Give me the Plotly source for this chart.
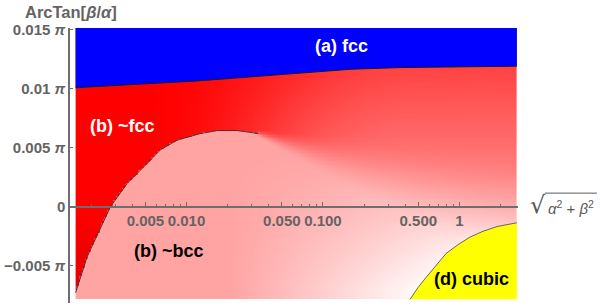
import numpy as np
import plotly.graph_objects as go

# ---------------- data ----------------
# x = sqrt(alpha^2+beta^2) (log scale), y = ArcTan[beta/alpha] in units of pi
fcc_x = [0.00154, 0.005, 0.012, 0.03, 0.07, 0.16, 0.37, 0.85, 2.64]
fcc_y = [0.01008, 0.0104, 0.01065, 0.0110, 0.01135, 0.01164, 0.01178, 0.01185, 0.0119]

bcc_x = [0.00154, 0.00187, 0.00277, 0.00367, 0.00486, 0.00644, 0.00853, 0.01264, 0.01684, 0.0236, 0.0336]
bcc_y = [-0.00727, -0.00423, 0.0, 0.00197, 0.00338, 0.00482, 0.00564, 0.0062, 0.00645, 0.00645, 0.0062]

cubic_x = [0.4355, 0.4984, 0.5705, 0.6639, 0.7991, 0.9783, 1.198, 1.491, 1.888, 2.64]
cubic_y = [-0.00783, -0.00682, -0.00597, -0.00504, -0.00395, -0.00320, -0.00256, -0.00207, -0.00167, -0.00135]

x_min, x_max = 0.00154, 2.64
y_min, y_max = -0.00783, 0.01513

xtick_vals = [0.005, 0.01, 0.05, 0.1, 0.5, 1]
xtick_text = ["0.005", "0.010", "0.050", "0.100", "0.500", "1"]
xminor_vals = [0.002, 0.003, 0.004, 0.006, 0.007, 0.008, 0.009,
               0.02, 0.03, 0.04, 0.06, 0.07, 0.08, 0.09,
               0.2, 0.3, 0.4, 0.6, 0.7, 0.8, 0.9, 2]
ytick_vals = [-0.005, 0, 0.005, 0.01, 0.015]
ytick_text = ["\u22120.005 <i>\u03c0</i>", "0", "0.005 <i>\u03c0</i>", "0.01 <i>\u03c0</i>", "0.015 <i>\u03c0</i>"]

# ---------------- shading of the ~fcc / ~bcc area (style) ----------------
nx, ny = 300, 200
lx0, lx1 = np.log10(x_min), np.log10(x_max)
lx_edges = np.linspace(lx0, lx1, nx + 1)
x_edges = 10 ** lx_edges
y_edges = np.linspace(y_min, y_max, ny + 1)
lx_c = 0.5 * (lx_edges[:-1] + lx_edges[1:])
y_c = 0.5 * (y_edges[:-1] + y_edges[1:])
LX, YU = np.meshgrid(lx_c, y_c * 1000)
X = (LX - lx0) / (lx1 - lx0)


def ss(t):
    t = np.clip(t, 0, 1)
    return t * t * (3 - 2 * t)


yf = np.interp(LX, np.log10(fcc_x), np.array(fcc_y) * 1000)
depth = np.clip((yf - YU) / yf, 0, None)
w_r = 0.26 * ss((X - 0.15) / 0.6) + 0.3 * ss((X - 0.2) / 0.4) * depth
w_r = w_r - 0.08 * np.clip(-YU / 7.5, 0, 1) * (1 - ss(X / 0.12))
q = ((X - 0.35) / 0.45) * np.clip(0.4 - 0.0854 * YU, 0, 1)
w_p = 0.64 + 0.36 * np.clip(q, 0, 1)
Xc = (np.log10(bcc_x[-1]) - lx0) / (lx1 - lx0)
yb = np.interp(LX, np.log10(bcc_x), np.array(bcc_y) * 1000)
s = np.clip((X - Xc) / (1 - Xc), 0, 1)
yc = bcc_y[-1] * 1000 - 7 * s
hw = 0.3 + 6 * s
t = ss((yc - YU) / (2 * hw) + 0.5)
w = np.where(X <= Xc, np.where(YU < yb, w_p, w_r), (1 - t) * w_r + t * w_p)

cs = [[0, "rgb(200,0,0)"], [0.15 / 1.15, "rgb(255,0,0)"], [1, "rgb(255,255,255)"]]

fig = go.Figure()
fig.add_trace(go.Heatmap(x=x_edges, y=y_edges, z=w, colorscale=cs, zmin=-0.15, zmax=1,
                         showscale=False, hoverinfo="skip", zsmooth=False))
# (a) fcc region
fig.add_trace(go.Scatter(x=fcc_x + [x_max, x_min], y=fcc_y + [y_max, y_max], fill="toself",
                         fillcolor="rgb(0,0,255)", line=dict(width=0), mode="lines", hoverinfo="skip"))
fig.add_trace(go.Scatter(x=fcc_x, y=fcc_y, mode="lines", line=dict(color="#1a1a1a", width=1), hoverinfo="skip"))
# (d) cubic region
fig.add_trace(go.Scatter(x=cubic_x + [x_max], y=cubic_y + [y_min], fill="toself",
                         fillcolor="rgb(255,255,0)", line=dict(width=0), mode="lines", hoverinfo="skip"))
fig.add_trace(go.Scatter(x=cubic_x, y=cubic_y, mode="lines", line=dict(color="#666666", width=1), hoverinfo="skip"))
# ~fcc / ~bcc boundary
fig.add_trace(go.Scatter(x=bcc_x, y=bcc_y, mode="lines", line=dict(color="#503030", width=1), hoverinfo="skip"))

# ---------------- layout ----------------
W, H = 600, 306
L, R, T, B = 69.5, 82, 27.7, 3
pw, ph = W - L - R, H - T - B
yr = [-0.00814, y_max]
xr = [-2.8536, 0.4297]


def px2paper(px, py):
    return (px - L) / pw, (H - B - py) / ph


axis_col = "#6e6e6e"
tick_font = dict(family="Liberation Sans", size=15, color="#646464")

fig.update_layout(
    width=W, height=H, margin=dict(l=L, r=R, t=T, b=B),
    paper_bgcolor="white", plot_bgcolor="white", showlegend=False,
    xaxis=dict(type="log", range=xr, showgrid=False, zeroline=False, showline=True,
               linecolor=axis_col, linewidth=1.5, anchor="free",
               position=(0 - yr[0]) / (yr[1] - yr[0]),
               ticks="inside", ticklen=4, tickwidth=1, tickcolor=axis_col,
               tickmode="array", tickvals=xtick_vals, ticktext=xtick_text,
               tickfont=dict(tick_font, weight="bold"),
               minor=dict(tickmode="array", tickvals=xminor_vals, ticks="inside", ticklen=2,
                          tickcolor=axis_col, tickwidth=1)),
    yaxis=dict(range=yr, showgrid=False, zeroline=False, showline=True,
               linecolor=axis_col, linewidth=1.5,
               ticks="inside", ticklen=3, tickwidth=1, tickcolor=axis_col,
               tickmode="array", tickvals=ytick_vals, ticktext=ytick_text,
               tickfont=dict(tick_font, weight="bold")),
)

annots = []


def add_text(text, px, py, size, color, bold=True, family="Liberation Sans", anchor="center"):
    ax, ay = px2paper(px, py)
    annots.append(dict(text=text, x=ax, y=ay, xref="paper", yref="paper", showarrow=False,
                       xanchor=anchor, yanchor="middle",
                       font=dict(family=family, size=size, color=color,
                                 weight="bold" if bold else "normal")))


add_text("(a) fcc", 341, 46, 18, "white")
add_text("(b) ~fcc", 122, 126, 18, "white")
add_text("(b) ~bcc", 169, 251, 18, "black")
add_text("(d) cubic", 471, 279, 18, "black")
add_text("ArcTan[<i>\u03b2</i>/<i>\u03b1</i>]", 22, 12, 16.5, "#646464", anchor="left")
add_text("\u221a", 538, 205, 24, "#5a5a5a", bold=False, family="DejaVu Sans")
add_text("<i>\u03b1</i><sup>2</sup> + <i>\u03b2</i><sup>2</sup>", 571, 207, 15, "#5a5a5a", bold=False)
fig.update_layout(annotations=annots)

x0p, y0p = px2paper(545, 193)
x1p, _ = px2paper(597, 193)
fig.add_shape(type="line", xref="paper", yref="paper", x0=x0p, x1=x1p, y0=y0p, y1=y0p,
              line=dict(color="#5a5a5a", width=1))

fig.write_html("out.html", config={"displayModeBar": False},
               post_script="document.body.style.margin='0';")
